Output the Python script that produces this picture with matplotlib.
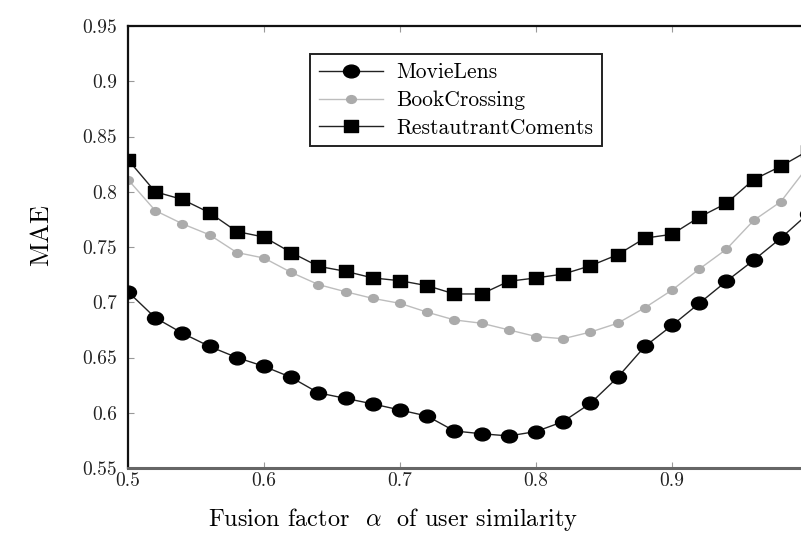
import numpy as np
import matplotlib
matplotlib.use("Agg")
import matplotlib.pyplot as plt
from matplotlib.path import Path
from matplotlib.transforms import Affine2D

plt.rcParams['font.family'] = ['cmr10', 'DejaVu Serif']
plt.rcParams['mathtext.fontset'] = 'cm'
plt.rcParams['axes.formatter.use_mathtext'] = True

alpha = [0.50, 0.52, 0.54, 0.56, 0.58, 0.60, 0.62, 0.64, 0.66, 0.68,
         0.70, 0.72, 0.74, 0.76, 0.78, 0.80, 0.82, 0.84, 0.86, 0.88,
         0.90, 0.92, 0.94, 0.96, 0.98, 1.00]

movielens = [0.7095, 0.686, 0.672, 0.660, 0.650, 0.642, 0.632, 0.618, 0.613, 0.608,
             0.6025, 0.597, 0.5835, 0.581, 0.579, 0.583, 0.592, 0.6085, 0.632, 0.660,
             0.679, 0.699, 0.719, 0.738, 0.758, 0.780]

bookcrossing = [0.811, 0.783, 0.771, 0.761, 0.745, 0.740, 0.727, 0.716, 0.7095, 0.7035,
                0.699, 0.691, 0.684, 0.681, 0.675, 0.669, 0.667, 0.673, 0.681, 0.695,
                0.711, 0.730, 0.748, 0.774, 0.791, 0.823]

restaurant = [0.829, 0.800, 0.793, 0.781, 0.764, 0.759, 0.745, 0.7325, 0.728, 0.722,
              0.7195, 0.715, 0.7075, 0.7075, 0.719, 0.722, 0.7255, 0.733, 0.743, 0.758,
              0.7615, 0.777, 0.7895, 0.811, 0.823, 0.837]

labels = ['MovieLens', 'BookCrossing', 'RestautrantComents']
xticks = [0.5, 0.6, 0.7, 0.8, 0.9]
xtick_labels = ['0.5', '0.6', '0.7', '0.8', '0.9']
yticks = [0.55, 0.6, 0.65, 0.7, 0.75, 0.8, 0.85, 0.9, 0.95]
ytick_labels = ['0.55', '0.6', '0.65', '0.7', '0.75', '0.8', '0.85', '0.9', '0.95']

# slightly wide ellipse marker (image is horizontally stretched)
ell = Path.unit_circle().transformed(Affine2D().scale(1.0, 0.8))
sq = Path.unit_rectangle().transformed(Affine2D().translate(-0.5, -0.5).scale(1.0, 0.92))

fig = plt.figure(figsize=(8.01, 5.40), dpi=100)
ax = fig.add_axes([128/801, 1 - 468/540, 680/801, 442/540])

ax.plot(alpha, movielens, color='#222222', lw=1.0, marker=ell, markersize=11.5,
        markerfacecolor='black', markeredgecolor='black', label=labels[0], zorder=3)
ax.plot(alpha, bookcrossing, color='#bdbdbd', lw=1.0, marker=ell, markersize=7,
        markerfacecolor='#ababab', markeredgecolor='#ababab', label=labels[1], zorder=2)
ax.plot(alpha, restaurant, color='#222222', lw=1.0, marker=sq, markersize=9.5,
        markerfacecolor='black', markeredgecolor='black', label=labels[2], zorder=3)

ax.set_xlim(0.5, 1.0)
ax.set_ylim(0.55, 0.95)
ax.set_xticks(xticks)
ax.set_xticklabels(xtick_labels)
ax.set_yticks(yticks)
ax.set_yticklabels(ytick_labels)
ax.tick_params(direction='in', length=4, width=0.8, colors='#999999',
               top=True, right=True, labelsize=14, labelcolor='#222222')
ax.tick_params(axis='y', pad=8)
ax.tick_params(axis='x', pad=3)

for s in ['left', 'top']:
    ax.spines[s].set_linewidth(1.6)
    ax.spines[s].set_color('#111111')
ax.spines['bottom'].set_linewidth(2.2)
ax.spines['bottom'].set_color('#666666')

ax.set_xlabel(r'Fusion factor  $\alpha$  of user similarity', fontsize=17.5)
ax.xaxis.set_label_coords((393 - 128) / 680, -(506 - 468) / 442)
ax.set_ylabel('MAE', fontsize=19)
ax.yaxis.set_label_coords(-(128 - 53) / 680, (468 - 235) / 442)

leg = ax.legend(loc='upper left', bbox_to_anchor=(0.268, 0.936), fontsize=15.5,
                frameon=True, fancybox=False, edgecolor='#222222', framealpha=1,
                handlelength=3.0, borderpad=0.4, labelspacing=0.38, handletextpad=0.6,
                borderaxespad=0)
leg.get_frame().set_linewidth(1.4)

fig.savefig('out.png', dpi=100)
